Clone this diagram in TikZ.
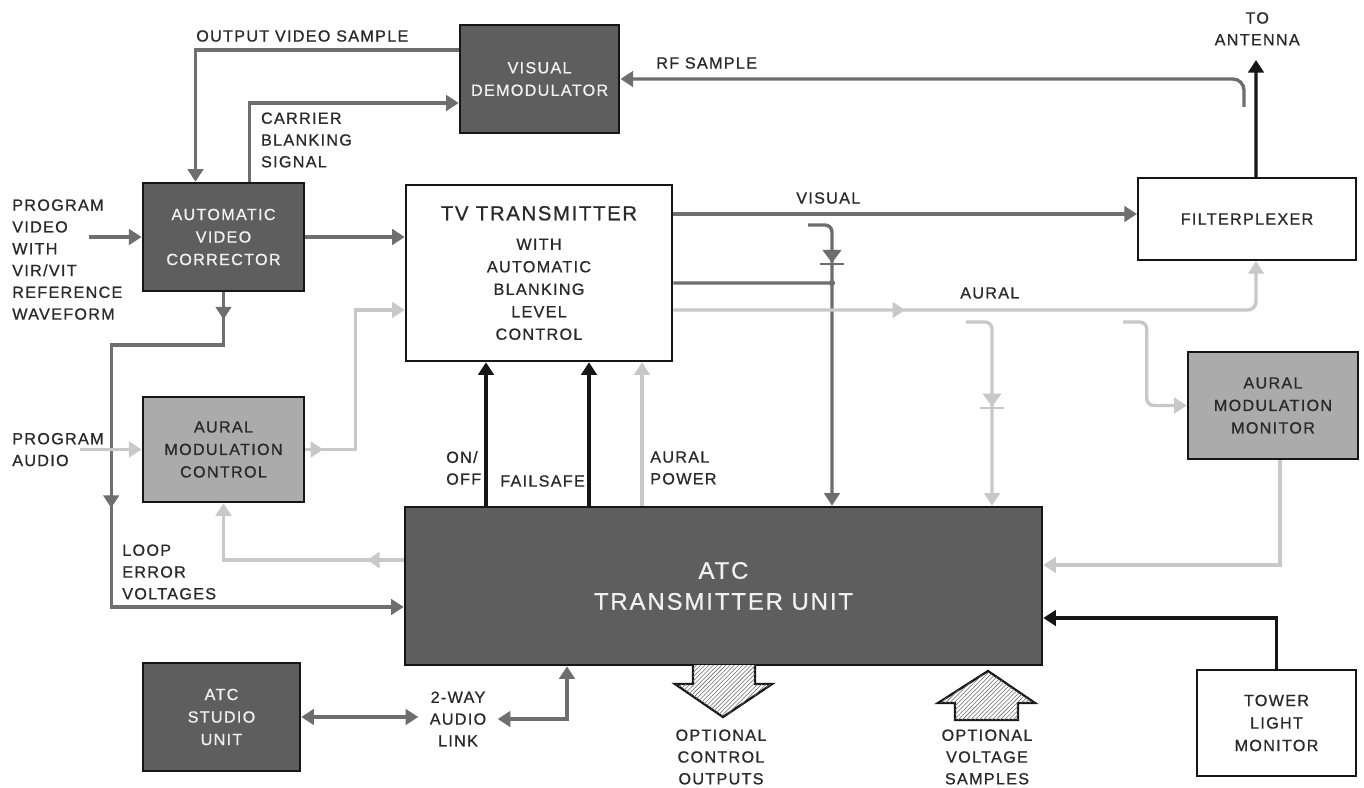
\documentclass[tikz,border=0pt]{standalone}
\usepackage{fontspec}
\setmainfont{Liberation Sans}[LetterSpace=8,FakeBold=0.8]
\usepackage{tikz}
\usetikzlibrary{arrows.meta,positioning,calc,decorations.markings,patterns}
\definecolor{unitdark}{HTML}{5E5E5E}
\definecolor{unitlight}{HTML}{ABABAB}
\definecolor{videoline}{HTML}{6E6E6E}
\definecolor{auralline}{HTML}{C8C8C8}
\definecolor{ctrlline}{HTML}{161616}
\definecolor{inktext}{HTML}{2A2A2A}
\tikzset{
  unit/.style={rectangle,draw=ctrlline,line width=1.8pt,fill=#1,text=inktext,
    align=center,font=\fontsize{11.5}{16}\selectfont,inner sep=2pt},
  unit/.default={white},
  darkunit/.style={unit=unitdark,text=white!94!black},
  greyunit/.style={unit=unitlight},
  sig/.style={line width=2.4pt,color=#1,-{Triangle[length=9pt,width=11pt]}},
  vid/.style={sig=videoline},
  aud/.style={sig=auralline},
  ctl/.style={sig=ctrlline},
  tipat/.style={postaction={decorate,decoration={markings,
    mark=at position #1 with {\arrow{Triangle[length=9pt,width=11pt]}}}}},
  lbl/.style={font=\fontsize{11.5}{15.5}\selectfont,text=inktext,inner sep=0pt},
  bigarrow/.style={line width=1.6pt,draw=ctrlline,fill=white,
    postaction={pattern=north east lines,pattern color=videoline}},
  diode/.pic={
    \fill (-0.24,0.16) -- (0.24,0.16) -- (0,-0.16) -- cycle;
    \draw[line width=1.5pt] (-0.3,-0.2) -- (0.3,-0.2);
  },
}
\begin{document}
\begin{tikzpicture}
  \fill[white] (0,0) rectangle (34.1,-19.7);
  \useasboundingbox (0,0) rectangle (34.1,-19.7);
  % units
  \node[darkunit,minimum width=3.98cm,minimum height=2.7cm] (vdem) at (13.49,-1.975) {VISUAL\\DEMODULATOR};
  \node[darkunit,minimum width=4.03cm,minimum height=2.7cm] (avc) at (5.5875,-5.925) {AUTOMATIC\\VIDEO\\CORRECTOR};
  \node[unit,minimum width=6.65cm,minimum height=4.4cm] (tvt) at (13.475,-6.825) {
    {\fontsize{14.5}{20}\selectfont TV TRANSMITTER}\\[5pt]WITH\\AUTOMATIC\\BLANKING\\LEVEL\\CONTROL};
  \node[unit,minimum width=5.45cm,minimum height=2.05cm,line width=1.5pt] (fplx) at (31.175,-5.475) {FILTERPLEXER};
  \node[greyunit,minimum width=4.03cm,minimum height=2.625cm] (amc) at (5.5875,-11.2375) {AURAL\\MODULATION\\CONTROL};
  \node[greyunit,minimum width=4.25cm,minimum height=2.675cm] (amm) at (31.825,-10.1375) {AURAL\\MODULATION\\MONITOR};
  \node[darkunit,minimum width=15.925cm,minimum height=3.95cm,font=\fontsize{17}{22}\selectfont] (atc) at (18.0875,-14.65) {ATC\\TRANSMITTER UNIT};
  \node[darkunit,minimum width=3.925cm,minimum height=2.7cm] (stu) at (5.5375,-17.925) {ATC\\STUDIO\\UNIT};
  \node[unit,minimum width=3.975cm,minimum height=2.65cm,line width=1.5pt] (tlm) at (31.9125,-18.075) {TOWER\\LIGHT\\MONITOR};
  % free ends
  \coordinate (pvin) at (2.225,-5.925);
  \coordinate (pain) at (2.0,-11.2375);
  \coordinate (rftap) at (31.1,-2.675);
  \coordinate (ant) at (31.4,-1.5);
  \coordinate (vtap) at (20.2,-5.625);
  \coordinate (vjoin) at (20.8,-7.075);
  \coordinate (atap) at (24.15,-8.05);
  \coordinate (mtap) at (28.075,-8.05);
  % labels
  \node[lbl,anchor=west] (ovs) at (4.9,-0.9) {OUTPUT VIDEO SAMPLE};
  \node[lbl,anchor=west,align=left] (cbs) at (6.52,-3.5) {CARRIER\\BLANKING\\SIGNAL};
  \node[lbl,anchor=west] (rfs) at (16.4,-1.575) {RF SAMPLE};
  \node[lbl,align=center] (toant) at (31.43,-0.72) {TO\\ANTENNA};
  \node[lbl,anchor=west] (vis) at (19.9,-4.95) {VISUAL};
  \node[lbl,anchor=west] (aur) at (24.0,-7.325) {AURAL};
  \node[lbl,anchor=west,align=left] (pvid) at (0.3,-6.49) {PROGRAM\\VIDEO\\WITH\\VIR/VIT\\REFERENCE\\WAVEFORM};
  \node[lbl,anchor=west,align=left] (paud) at (0.3,-11.24) {PROGRAM\\AUDIO};
  \node[lbl,anchor=west,align=left] (lev) at (3.05,-14.3) {LOOP\\ERROR\\VOLTAGES};
  \node[lbl,anchor=west,align=left] (onoff) at (11.15,-11.7) {ON/\\OFF};
  \node[lbl,anchor=west] (fsafe) at (12.5,-12.025) {FAILSAFE};
  \node[lbl,anchor=west,align=left] (apow) at (16.25,-11.7) {AURAL\\POWER};
  \node[lbl,align=center,inner xsep=8pt] (link) at (11.45,-17.975) {2-WAY\\AUDIO\\LINK};
  \node[lbl,align=center] (cout) at (18.025,-18.925) {OPTIONAL\\CONTROL\\OUTPUTS};
  \node[lbl,align=center] (vsam) at (24.675,-18.925) {OPTIONAL\\VOLTAGE\\SAMPLES};
  % video paths
  \draw[vid] ([yshift=0.725cm]vdem.west) -| ([xshift=-0.7cm]avc.north);
  \draw[vid] ([xshift=0.65cm]avc.north) |- ([yshift=-0.6cm]vdem.west);
  \draw[vid,rounded corners=8pt] (rftap) |- (vdem.east);
  \draw[vid] (pvin) -- (avc.west);
  \draw[vid] (avc.east) -- (avc.east -| tvt.west);
  \draw[vid,tipat=0.68cm,tipat=8.2cm] (avc.south) |- (2.78,-8.625) |- ([yshift=-0.525cm]atc.west);
  \draw[vid] ([yshift=1.475cm]tvt.east) -- ([yshift=1.475cm]tvt.east -| fplx.west);
  \draw[vid,rounded corners=5pt] (vtap) -| (atc.north -| 20.8,0);
  \draw[vid,-] ([yshift=-0.25cm]tvt.east) -- (vjoin);
  \fill[videoline] (vjoin) circle (2.2pt);
  \pic[videoline] at (20.8,-6.41) {diode};
  \draw[vid,{Triangle[length=9pt,width=11pt]}-{Triangle[length=9pt,width=11pt]}] (stu.east) -- (stu.east -| link.west);
  \draw[vid,{Triangle[length=9pt,width=11pt]}-{Triangle[length=9pt,width=11pt]}] (link.east) -| (atc.south -| 14.175,0);
  % aural paths
  \draw[aud] (pain) -- (amc.west);
  \draw[aud,tipat=0.45cm] (amc.east) -| ([xshift=-1.225cm,yshift=-0.925cm]tvt.west) -- ([yshift=-0.925cm]tvt.west);
  \draw[aud,tipat=0.92cm] ([yshift=0.65cm]atc.west) -| (amc.south);
  \draw[aud,rounded corners=6pt,tipat=5.8cm] ([yshift=-0.925cm]tvt.east) -| ([xshift=0.225cm]fplx.south);
  \draw[aud,rounded corners=5pt] (atap) -| (atc.north -| 24.8,0);
  \pic[auralline] at (24.8,-10.0) {diode};
  \draw[aud,rounded corners=5pt] (mtap) -| ([xshift=-1cm]amm.west) -- (amm.west);
  \draw[aud] ([xshift=0.175cm]amm.south) |- ([yshift=0.525cm]atc.east);
  \draw[aud] (atc.north -| 16.05,0) -- (tvt.south -| 16.05,0);
  % control paths
  \draw[ctl] ([xshift=0.225cm]fplx.north) -- (ant);
  \draw[ctl] (atc.north -| 12.15,0) -- (tvt.south -| 12.15,0);
  \draw[ctl] (atc.north -| 14.725,0) -- (tvt.south -| 14.725,0);
  \draw[ctl] (tlm.north) |- ([yshift=-0.8cm]atc.east);
  % optional outputs / samples
  \draw[bigarrow] (17.325,-16.625) -- (17.325,-17.1) -- (16.875,-17.1) -- (18.075,-17.925)
    -- (19.3,-17.1) -- (18.875,-17.1) -- (18.875,-16.625);
  \draw[bigarrow] (23.875,-18.0) -- (23.875,-17.575) -- (23.45,-17.575) -- (24.7,-16.775)
    -- (25.875,-17.575) -- (25.45,-17.575) -- (25.45,-18.0) -- cycle;
\end{tikzpicture}
\end{document}
